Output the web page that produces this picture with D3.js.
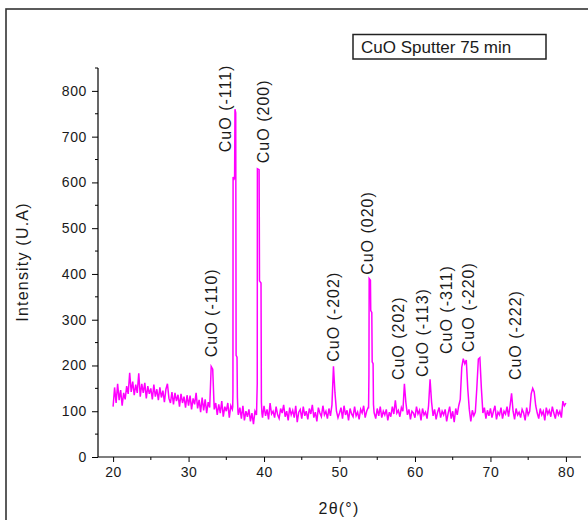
<!DOCTYPE html>
<html>
<head>
<meta charset="utf-8">
<script src="https://cdn.jsdelivr.net/npm/d3@7"></script>
<style>
  body { margin: 0; background: #fff; }
  text { font-family: "Liberation Sans", Arial, sans-serif; fill: #1a1a1a; }
</style>
</head>
<body>
<div id="xrd"></div>
<script>
// scan start / step (deg) and background counts
var scanStart = 20;
var scanStep = 0.2;
var bgCounts = [
  110, 152, 118, 160, 124, 146, 112, 140, 126, 155,
  138, 184, 142, 165, 135, 158, 140, 183, 132, 160,
  140, 162, 128, 155, 138, 150, 126, 158, 132, 148,
  124, 152, 130, 145, 120, 148, 160, 128, 118, 142,
  115, 140, 122, 136, 110, 138, 118, 132, 108, 135,
  112, 134, 104, 128, 115, 140, 106, 125, 98, 130,
  102, 126, 96, 120, 108, 198, 192, 104, 118, 92,
  115, 96, 122, 88, 110, 100, 118, 86, 112, 104,
  110, 110, 110, 92, 108, 84, 112, 80, 100, 88,
  104, 78, 96, 72, 100, 92, 100, 100, 100, 86,
  112, 90, 104, 82, 118, 94, 100, 86, 110, 92,
  84, 106, 96, 114, 88, 100, 80, 108, 92, 102,
  86, 112, 76, 98, 104, 84, 110, 90, 100, 82,
  106, 94, 114, 86, 98, 78, 108, 96, 88, 112,
  92, 100, 84, 106, 90, 114, 198, 140, 100, 86,
  96, 108, 84, 112, 92, 102, 80, 106, 94, 88,
  110, 90, 98, 82, 104, 96, 112, 86, 100, 108,
  100, 100, 100, 96, 84, 106, 90, 110, 86, 100,
  92, 104, 80, 98, 88, 110, 94, 124, 96, 102,
  88, 108, 100, 160, 118, 92, 104, 82, 100, 96,
  86, 110, 94, 102, 80, 106, 92, 98, 84, 112,
  170, 120, 90, 104, 82, 98, 108, 86, 100, 92,
  104, 78, 96, 110, 84, 100, 76, 106, 92, 112,
  126, 196, 215, 204, 212, 148, 104, 78, 102, 90,
  98, 152, 214, 217, 150, 96, 108, 84, 102, 90,
  106, 86, 100, 112, 82, 98, 92, 108, 84, 100,
  94, 110, 88, 112, 139, 100, 82, 106, 92, 98,
  86, 104, 96, 80, 108, 92, 100, 138, 150, 142,
  112, 96, 84, 106, 92, 100, 80, 108, 94, 102,
  88, 110, 96, 84, 104, 92, 100, 86, 122, 112,
  118
];

// the three strong reflections, finer points [2theta, counts]
var peak111 = [[35.85, 110], [35.88, 140], [35.9, 612], [36.0, 605], [36.1, 612], [36.15, 760],
  [36.25, 752], [36.3, 222], [36.42, 218], [36.47, 130], [36.55, 98]];
var peak200 = [[39.02, 104], [39.1, 160], [39.12, 630], [39.35, 628], [39.4, 385],
  [39.6, 380], [39.65, 120], [39.72, 96]];
var peak020 = [[53.85, 106], [53.9, 180], [53.93, 390], [54.1, 386], [54.14, 320],
  [54.28, 316], [54.33, 208], [54.45, 204], [54.5, 115], [54.58, 98]];

// peak labels: text, 2theta of label, counts at label foot
var labelNames = ["CuO (-110)", "CuO (-111)", "CuO (200)", "CuO (-202)", "CuO (020)",
  "CuO (202)", "CuO (-113)", "CuO (-311)", "CuO (-220)", "CuO (-222)"];
var labelTheta = [33.71, 35.57, 40.61, 49.96, 54.38, 58.6, 61.68, 64.87, 67.86, 74.05];
var labelFoot = [218, 666, 642, 208, 398, 168, 175, 225, 229, 168];

var xTicks = [20, 30, 40, 50, 60, 70, 80];
var xMinor = [25, 35, 45, 55, 65, 75];
var yTicks = [0, 100, 200, 300, 400, 500, 600, 700, 800];
var yMinor = [50, 150, 250, 350, 450, 550, 650, 750, 850];

var width = 588;
var height = 520;

var svg = d3.select("#xrd")
  .append("svg")
  .attr("width", width)
  .attr("height", height);

svg.append("rect")
  .attr("width", width).attr("height", height)
  .attr("fill", "#fff");

// outer frame (right and bottom edges fall outside the picture)
svg.append("rect")
  .attr("x", 6).attr("y", 9)
  .attr("width", 620).attr("height", 540)
  .attr("fill", "none")
  .attr("stroke", "#333")
  .attr("stroke-width", 1.6);

var xScale = d3.scaleLinear().domain([18, 82]).range([98, 581]);
var yScale = d3.scaleLinear().domain([0, 850]).range([457, 68]);

function buildScan() {
  var pts = [];
  for (var i = 0; i < bgCounts.length; i++) {
    pts.push([scanStart + i * scanStep, bgCounts[i]]);
  }
  [peak111, peak200, peak020].forEach(function(p) {
    var lo = p[0][0];
    var hi = p[p.length - 1][0];
    pts = pts.filter(function(d) { return d[0] < lo || d[0] > hi; });
    pts = pts.concat(p);
  });
  pts.sort(function(a, b) { return a[0] - b[0]; });
  return pts;
}
var scan = buildScan();

var line = d3.line()
  .x(function(d) { return xScale(d[0]); })
  .y(function(d) { return yScale(d[1]); });

svg.append("path")
  .datum(scan)
  .attr("d", line)
  .attr("fill", "none")
  .attr("stroke", "#ff00ff")
  .attr("stroke-width", 1.5)
  .attr("stroke-linejoin", "miter");

// axes
var xAxis = d3.axisBottom(xScale).tickValues(xTicks).tickSize(5).tickPadding(5);
var yAxis = d3.axisLeft(yScale).tickValues(yTicks).tickSize(6).tickPadding(5);

var gx = svg.append("g")
  .attr("class", "xAxis")
  .attr("transform", "translate(0," + yScale(0) + ")")
  .call(xAxis);
gx.selectAll(".minor").data(xMinor).enter()
  .append("line")
  .attr("x1", function(d) { return xScale(d); })
  .attr("x2", function(d) { return xScale(d); })
  .attr("y1", 0).attr("y2", 3)
  .attr("stroke", "#000");

var gy = svg.append("g")
  .attr("class", "yAxis")
  .attr("transform", "translate(" + xScale(18) + ",0)")
  .call(yAxis);
gy.selectAll(".minor").data(yMinor).enter()
  .append("line")
  .attr("y1", function(d) { return yScale(d); })
  .attr("y2", function(d) { return yScale(d); })
  .attr("x1", 0).attr("x2", -3)
  .attr("stroke", "#000");

[gx, gy].forEach(function(g) {
  g.select(".domain").attr("stroke", "#000").attr("stroke-width", 1.2);
  g.selectAll(".tick line").attr("stroke", "#000");
  g.selectAll(".tick text")
    .style("font-size", "14px")
    .style("letter-spacing", "0.6px")
    .attr("fill", "#1a1a1a");
});
gy.select(".domain").attr("d", "M0," + yScale(850) + "V" + yScale(0));
gx.select(".domain").attr("d", "M" + xScale(18) + ",0H" + xScale(82));

// axis titles
svg.append("text")
  .attr("transform", "translate(28," + 262 + ")rotate(-90)")
  .attr("text-anchor", "middle")
  .style("font-size", "16px")
  .style("letter-spacing", "1.2px")
  .text("Intensity (U.A)");

svg.append("text")
  .attr("x", 339)
  .attr("y", 514)
  .attr("text-anchor", "middle")
  .style("font-size", "16px")
  .style("letter-spacing", "1.2px")
  .text("2θ(°)");

// peak labels
svg.selectAll(".peakLabel")
  .data(labelNames)
  .enter()
  .append("text")
  .attr("class", "peakLabel")
  .attr("transform", function(d, i) {
    return "translate(" + xScale(labelTheta[i]) + "," + yScale(labelFoot[i]) + ")rotate(-90)";
  })
  .style("font-size", "16px")
  .style("letter-spacing", "1px")
  .text(function(d) { return d; });

// legend box
svg.append("rect")
  .attr("x", 353).attr("y", 34.5)
  .attr("width", 193).attr("height", 24.5)
  .attr("fill", "#fff")
  .attr("stroke", "#222")
  .attr("stroke-width", 1.5);
svg.append("text")
  .attr("x", 361)
  .attr("y", 53)
  .style("font-size", "17px")
  .text("CuO Sputter 75 min");
</script>
</body>
</html>
